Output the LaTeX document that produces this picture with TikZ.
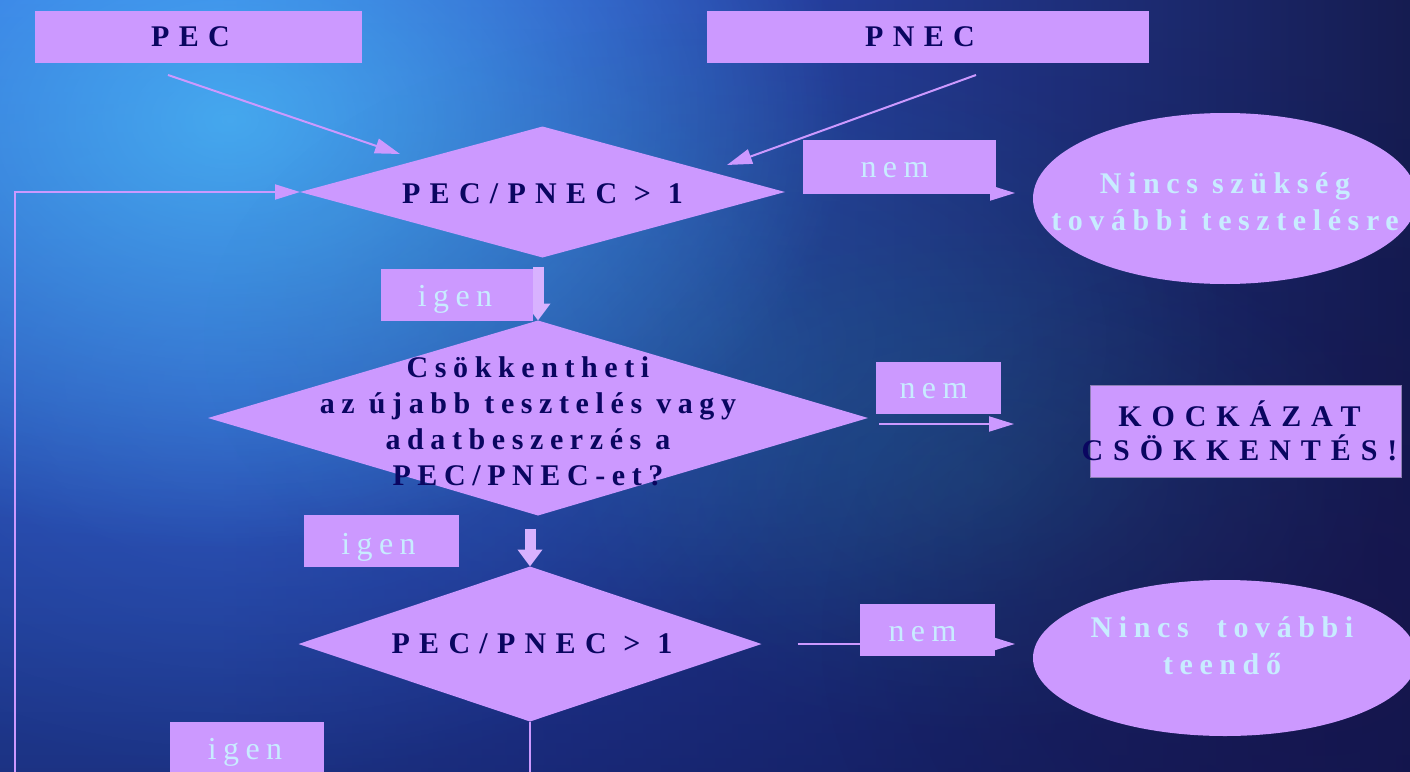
\documentclass[tikz,border=0pt]{standalone}
\usepackage{fontspec}
\setmainfont{Liberation Serif}
\newfontfamily\fontcaps[LetterSpace=31]{Liberation Serif}
\newfontfamily\fontmid[LetterSpace=22]{Liberation Serif}
\newfontfamily\fontwide[LetterSpace=33]{Liberation Serif}
\newfontfamily\fontlight[LetterSpace=20]{Liberation Serif}
\usetikzlibrary{shapes.geometric,arrows.meta,fadings,calc}

\definecolor{lav}{HTML}{CC99FF}
\definecolor{lavlight}{HTML}{D8B2FF}
\definecolor{ink}{HTML}{0A0660}
\definecolor{pale}{HTML}{C8ECFF}
\definecolor{kockedge}{HTML}{8C7FB4}
\definecolor{bgA}{HTML}{3568E0}
\definecolor{bgB}{HTML}{2C4CC0}
\definecolor{bgC}{HTML}{213485}
\definecolor{bgD}{HTML}{161C50}
\definecolor{bgdark}{HTML}{0E1550}
\definecolor{cyanglow}{HTML}{4CC0F8}
\definecolor{blueglow}{HTML}{3A70E0}
\definecolor{tealglow}{HTML}{2A90A0}
\definecolor{violetdark}{HTML}{1E1248}

% background: horizontal blue-to-navy sweep
\pgfdeclarehorizontalshading{skyback}{100bp}{color(0bp)=(bgA); color(25bp)=(bgA); color(33bp)=(bgA); color(45bp)=(bgB); color(60bp)=(bgC); color(75bp)=(bgD); color(100bp)=(bgD)}
\tikzfading[name=downdark, top color=transparent!100, bottom color=transparent!0]
\tikzfading[name=glowblob, inner color=transparent!0, outer color=transparent!100]

\tikzset{
  topbox/.style={rectangle, fill=lav, inner sep=0pt, outer sep=0pt, minimum height=52pt},
  dia/.style={diamond, fill=lav, inner sep=0pt, outer sep=0pt},
  ell/.style={ellipse, fill=lav, inner sep=0pt, outer sep=0pt},
  darktxt/.style={text=ink, align=center, inner sep=0pt, font=\fontsize{30}{36}\selectfont\fontcaps\bfseries},
  midtxt/.style={text=ink, align=center, inner sep=0pt, font=\fontsize{30}{36}\selectfont\fontmid\bfseries},
  widetxt/.style={text=ink, align=center, inner sep=0pt, font=\fontsize{30}{34}\selectfont\fontwide\bfseries},
  glowtxt/.style={text=pale, align=center, inner sep=0pt, font=\fontsize{30}{37}\selectfont\fontmid\bfseries},
  lighttxt/.style={text=pale, inner sep=0pt, font=\fontsize{32}{38}\selectfont\fontlight},
  conn/.style={draw=lav, line width=2pt},
  arr/.style={conn, -{Triangle[length=25pt,width=15pt]}},
  blk/.style={draw=lavlight, line width=11pt, -{Triangle[length=17pt,width=24pt]}}
}

\begin{document}
\begin{tikzpicture}[x=1pt,y=-1pt]
\useasboundingbox (0,0) rectangle (1410,771);
% the painted area runs a little past the page edges
\clip (-12,-12) rectangle (1422,783);

% ---- background ----
\shade[shading=skyback] (-12,-12) rectangle (1422,783);
\fill[bgdark, opacity=0.65, path fading=downdark] (-12,-12) rectangle (1422,783);
\fill[blueglow, opacity=0.4, path fading=glowblob] (250,380) ellipse (600 and 400);
\fill[cyanglow, opacity=0.75, path fading=glowblob] (230,120) ellipse (620 and 430);
\fill[tealglow, opacity=0.22, path fading=glowblob] (720,340) ellipse (520 and 320);
\fill[tealglow, opacity=0.18, path fading=glowblob] (980,480) ellipse (420 and 260);
\fill[violetdark, opacity=0.4, path fading=glowblob] (1320,640) ellipse (500 and 400);

% ---- shapes ----
\node[topbox, minimum width=327pt] (pec) at (198.5,37) {};
\node[topbox, minimum width=442pt] (pnec) at (928,37) {};
\node[dia, minimum width=485pt, minimum height=131pt] (d1) at (542.5,192) {};
\node[dia, minimum width=660pt, minimum height=195pt] (d2) at (538,418) {};
\node[dia, minimum width=463pt, minimum height=155pt] (d3) at (530,644) {};
\node[ell, minimum width=384pt, minimum height=171pt] (e1) at (1225,198.5) {};
\node[ell, minimum width=384pt, minimum height=156pt] (e2) at (1225,658) {};
\node[topbox, minimum width=311pt, minimum height=92pt, draw=kockedge, line width=1pt] (kock) at (1245.5,431) {};
\coordinate (loopl) at (15,800);

% ---- connectors ----
\draw[arr] ($(pec.south)+(-30.5,12)$) -- ($(d1.center)+(-142.5,-38)$);
\draw[arr] ($(pnec.south)+(48,12)$) -- ($(d1.center)+(184.5,-27)$);
\draw[conn] (d3.south) -- ++(0,80);
\draw[arr] (loopl) |- (d1.west);
\draw[arr] (803,193) coordinate (a1s) -- ($(e1.west |- a1s)+(-18,0)$);
\draw[arr] (879,424) coordinate (a2s) -- ($(kock.west |- a2s)+(-76,0)$);
\draw[arr] ($(d3.east)+(36,0)$) -- ($(e2.west |- d3.east)+(-18,0)$);
\draw[blk] ($(d2.north)+(0,-54)$) -- (d2.north);
\draw[blk] ($(d3.north)+(0,-38)$) -- (d3.north);

% ---- label boxes ----
\node[topbox, minimum width=193pt] (nem1) at (899.5,166) {};
\node[topbox, minimum width=125pt] (nem2) at (938.5,388) {};
\node[topbox, minimum width=135pt] (nem3) at (927.5,630) {};
\node[topbox, minimum width=152pt] (igen1) at (457,295) {};
\node[topbox, minimum width=155pt] (igen2) at (381.5,541) {};
\node[topbox, minimum width=154pt] (igen3) at (247,748) {};

% ---- texts ----
\node[darktxt] (pect) at ($(pec.center)+(-8,0)$) {PEC};
\node[darktxt] (pnect) at ($(pnec.center)+(-8,0)$) {PNEC};
\node[darktxt] (d1t) at ($(d1.center)+(0,2)$) {PEC/PNEC > 1};
\node[midtxt] (d2t) at ($(d2.center)+(-10,3)$) {Csökkentheti\\az újabb tesztelés vagy\\adatbeszerzés a\\PEC/PNEC-et?};
\node[darktxt] (d3t) at ($(d3.center)+(2,0)$) {PEC/PNEC > 1};
\node[glowtxt] (e1t) at ($(e1.center)+(0,3)$) {Nincs szükség\\további tesztelésre};
\node[glowtxt] (e2t) at ($(e2.center)+(-3,-12)$) {Nincs \ további\\teendő};
\node[widetxt] (kockt) at ($(kock.center)+(-6,0)$) {KOCKÁZAT\\CSÖKKENTÉS!};
\node[lighttxt] (nem1t) at ($(nem1.center)+(-5,4)$) {nem};
\node[lighttxt] (nem2t) at ($(nem2.center)+(-5,3)$) {nem};
\node[lighttxt] (nem3t) at ($(nem3.center)+(-5,4)$) {nem};
\node[lighttxt] (igen1t) at ($(igen1.center)+(-2,4)$) {igen};
\node[lighttxt] (igen2t) at ($(igen2.center)+(-3,6)$) {igen};
\node[lighttxt] (igen3t) at ($(igen3.center)+(-2,4)$) {igen};
\end{tikzpicture}
\end{document}
